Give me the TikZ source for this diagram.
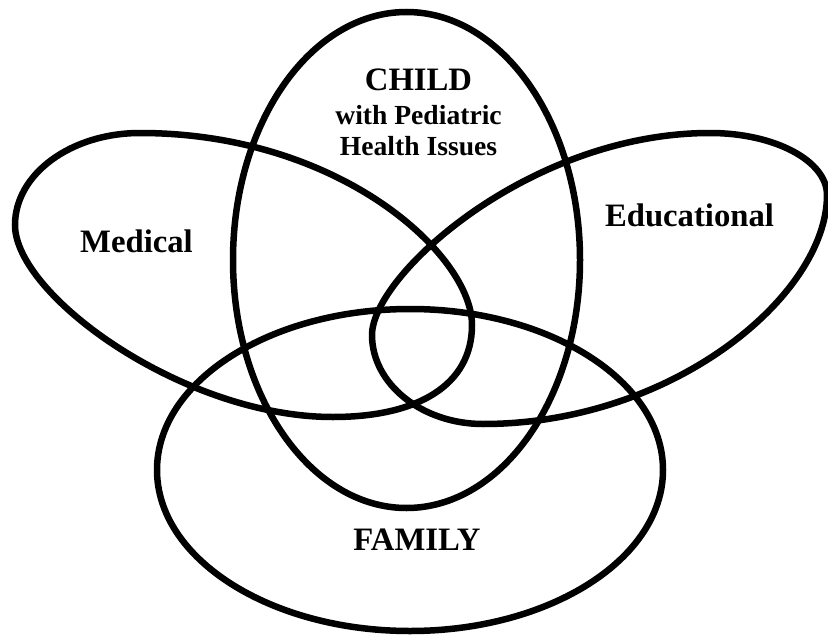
\documentclass[tikz,border=0pt]{standalone}
\usepackage{fontspec}
\setmainfont{Liberation Serif}
\begin{document}
\begin{tikzpicture}[x=1pt,y=-1pt,
  ring/.style={line width=6.5pt,draw=black},
  big/.style={font=\fontsize{32.7}{34}\selectfont\bfseries,anchor=base,inner sep=0pt},
  small/.style={font=\fontsize{27.6}{31}\selectfont\bfseries,anchor=base,inner sep=0pt}]
\useasboundingbox (0,0) rectangle (828,637);
% Family
\draw[ring] (410,470) ellipse [x radius=253, y radius=161];
% Child
\draw[ring] (406.5,260) ellipse [x radius=173.5, y radius=248];
% Medical
\draw[ring] (15,225) .. controls (15,174) and (71,133) .. (140,133)
  .. controls (340,133) and (472,255) .. (472,325)
  .. controls (472,385) and (418,417) .. (333,417)
  .. controls (183,417) and (15,295) .. (15,225) -- cycle;
% Educational
\draw[ring] (827,195) .. controls (827,161) and (775,133) .. (710,133)
  .. controls (530,133) and (372,275) .. (372,335)
  .. controls (372,384) and (422,424) .. (483,424)
  .. controls (673,424) and (827,295) .. (827,195) -- cycle;
\node[big] (child) at (418.5,90) {CHILD};
\node[small] (ped) at (418.5,124) {with Pediatric};
\node[small] (hi) at (418.5,155) {Health Issues};
\node[big] (med) at (136.5,252) {Medical};
\node[big] (edu) at (689.5,226) {Educational};
\node[big] (fam) at (417,550) {FAMILY};
\end{tikzpicture}
\end{document}
